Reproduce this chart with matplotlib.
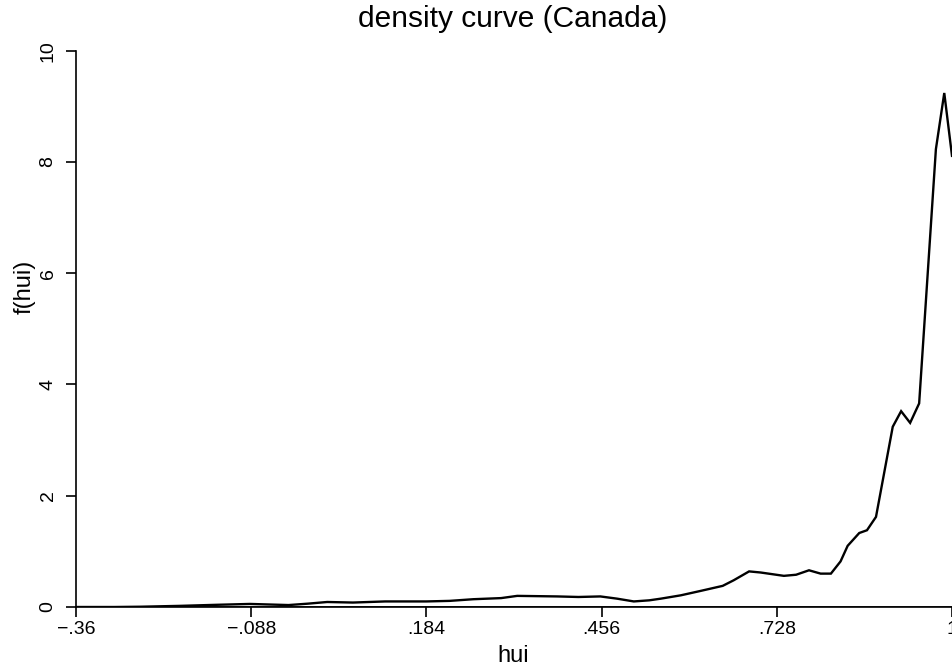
import matplotlib
matplotlib.use("Agg")
import matplotlib.pyplot as plt

# Data
hui = [-0.36, -0.30, -0.26, -0.20, -0.14, -0.09, -0.06, -0.03, 0.00, 0.03,
       0.07, 0.12, 0.184, 0.22, 0.257, 0.30, 0.325, 0.387, 0.42, 0.454,
       0.48, 0.506, 0.53, 0.548, 0.579, 0.61, 0.644, 0.661, 0.685, 0.703,
       0.739, 0.758, 0.778, 0.796, 0.812, 0.827, 0.838, 0.856, 0.868, 0.882,
       0.908, 0.921, 0.935, 0.949, 0.975, 0.988, 1.0]
density = [0.0, 0.0, 0.005, 0.02, 0.04, 0.055, 0.045, 0.035, 0.06, 0.09,
           0.08, 0.10, 0.10, 0.11, 0.14, 0.16, 0.20, 0.19, 0.18, 0.19,
           0.15, 0.10, 0.12, 0.15, 0.21, 0.29, 0.38, 0.48, 0.64, 0.62,
           0.56, 0.58, 0.66, 0.60, 0.60, 0.82, 1.10, 1.33, 1.38, 1.62,
           3.24, 3.52, 3.31, 3.66, 8.23, 9.24, 8.11]

x_ticks = [-0.36, -0.088, 0.184, 0.456, 0.728, 1.0]
x_tick_labels = ["\u2212.36", "\u2212.088", ".184", ".456", ".728", "1"]
y_ticks = [0, 2, 4, 6, 8, 10]
y_tick_labels = ["0", "2", "4", "6", "8", "10"]

plt.rcParams['font.family'] = ['Liberation Sans', 'DejaVu Sans']

fig = plt.figure(figsize=(9.53, 6.71), dpi=100)
ax = fig.add_axes([76 / 953, (671 - 607) / 671, 876 / 953, (607 - 50.7) / 671])

ax.plot(hui, density, color='black', lw=1.7, solid_joinstyle='miter')
ax.axhline(0, color='black', lw=1.2)

ax.set_xlim(-0.36, 1.0)
ax.set_ylim(0, 10)
ax.set_xticks(x_ticks)
ax.set_xticklabels(x_tick_labels)
ax.set_yticks(y_ticks)
ax.set_yticklabels(y_tick_labels, rotation=90, va='center')

for s in ['top', 'right']:
    ax.spines[s].set_visible(False)
for s in ['left', 'bottom']:
    ax.spines[s].set_linewidth(1.2)

ax.tick_params(axis='both', direction='out', length=7, width=1.2,
               labelsize=14, colors='black')
ax.tick_params(axis='x', pad=3)
ax.tick_params(axis='y', pad=7)

ax.set_xlabel("hui", fontsize=17)
ax.xaxis.set_label_coords(0.499, -0.068)
ax.set_ylabel("f(hui)", fontsize=17)
ax.yaxis.set_label_coords(-0.046, 0.575)

fig.text(513 / 953, 1 - 19 / 671, "density curve (Canada)", fontsize=21.5,
         ha='center', va='center')

fig.savefig("out.png", dpi=100)
